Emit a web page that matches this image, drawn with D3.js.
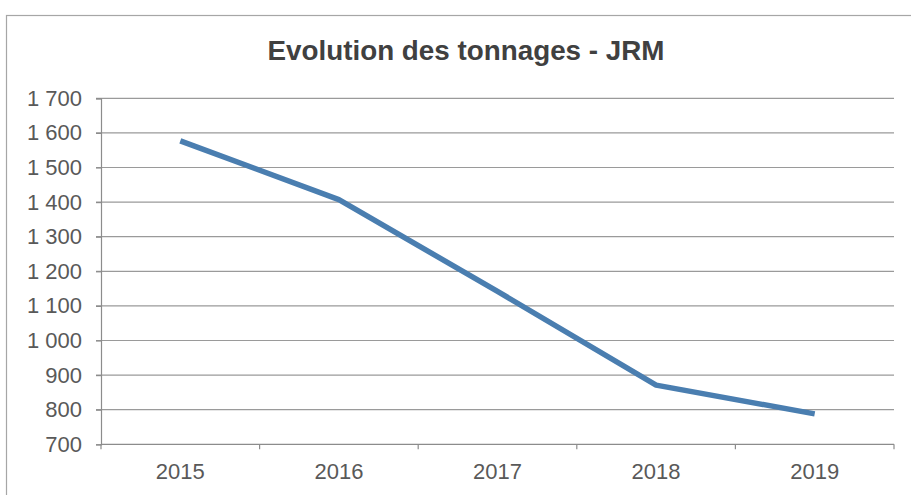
<!DOCTYPE html>
<html><head><meta charset="utf-8">
<script src="https://cdn.jsdelivr.net/npm/d3@7"></script>
<style>body{margin:0;background:#fff}svg{display:block;font-family:"Liberation Sans",Arial,sans-serif}</style>
</head><body>
<svg id="c" width="911" height="495"></svg>
<script>
const title = "Evolution des tonnages - JRM";
const categories = ["2015","2016","2017","2018","2019"];
const values = [1577, 1407, 1142, 871, 788];
const yTicks = [700,800,900,1000,1100,1200,1300,1400,1500,1600,1700];

const svg = d3.select("#c");
const m = {l:101, r:894, t:98.3, b:444.3};

// frame
svg.append("rect").attr("x",6.5).attr("y",15.5).attr("width",910).attr("height",490)
  .attr("fill","#fff").attr("stroke","#a6a6a6").attr("stroke-width",1.2);

const x = d3.scaleBand().domain(categories).range([m.l, m.r]);
const y = d3.scaleLinear().domain([700,1700]).range([m.b, m.t]);
const fmt = v => d3.format(",")(v).replace(/,/g, " ");

// gridlines
svg.append("g").selectAll("line").data(yTicks.slice(1)).join("line")
  .attr("x1", m.l - 5).attr("x2", m.r)
  .attr("y1", d => y(d)).attr("y2", d => y(d))
  .attr("stroke","#9a9a9a").attr("stroke-width",1.2);

// y axis
const ya = svg.append("g").attr("transform",`translate(${m.l},0)`)
  .call(d3.axisLeft(y).tickValues(yTicks).tickFormat(fmt).tickSize(5).tickPadding(14));
ya.select(".domain").attr("stroke","#8c8c8c").attr("stroke-width",1.2);
ya.selectAll(".tick line").attr("stroke","#8c8c8c").attr("stroke-width",1.2);
ya.selectAll("text").attr("fill","#595959").attr("font-size","22px").attr("font-family","Liberation Sans, Arial, sans-serif");

// x axis with boundary ticks
const xa = svg.append("g").attr("transform",`translate(0,${m.b})`);
xa.append("line").attr("x1",m.l).attr("x2",m.r).attr("stroke","#8c8c8c").attr("stroke-width",1.2);
const bounds = categories.map(c => x(c)).concat([m.r]);
xa.selectAll("line.t").data(bounds).join("line").attr("class","t")
  .attr("x1",d=>d).attr("x2",d=>d).attr("y1",0).attr("y2",5)
  .attr("stroke","#8c8c8c").attr("stroke-width",1.2);
xa.selectAll("text").data(categories).join("text")
  .attr("x", d => x(d) + x.bandwidth()/2).attr("y", 35)
  .attr("text-anchor","middle").attr("fill","#595959").attr("font-size","22px")
  .text(d => d);

// line
const line = d3.line().x((d,i) => x(categories[i]) + x.bandwidth()/2).y(d => y(d));
svg.append("path").datum(values).attr("d", line)
  .attr("fill","none").attr("stroke","#4a7eb0").attr("stroke-width",5.5)
  .attr("stroke-linejoin","round").attr("stroke-linecap","butt");

// title
svg.append("text").attr("x",466).attr("y",60).attr("text-anchor","middle")
  .attr("font-size","27.8px").attr("font-weight","bold").attr("fill","#404040")
  .text(title);
</script>
</body></html>
